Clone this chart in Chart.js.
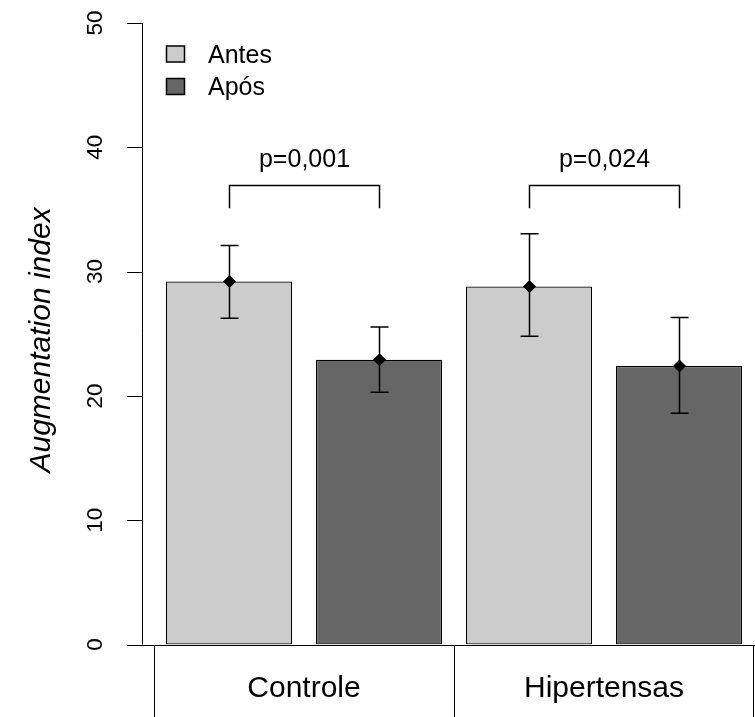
<!DOCTYPE html>
<html>
<head>
<meta charset="utf-8">
<script src="https://cdn.jsdelivr.net/npm/chart.js@4"></script>
<style>
  html, body { margin: 0; padding: 0; background: #fff; }
  #wrap { width: 755px; height: 717px; }
</style>
</head>
<body>
<div id="wrap"><canvas id="chart" width="755" height="717"></canvas></div>
<script>
// data
const categories = ['Controle', 'Hipertensas'];
const seriesNames = ['Antes', 'Após'];
const antesMean = [29.2, 28.8];
const aposMean = [22.9, 22.4];
const antesLow = [26.25, 24.8];
const antesHigh = [32.1, 33.05];
const aposLow = [20.3, 18.6];
const aposHigh = [25.55, 26.3];
const pLabels = ['p=0,001', 'p=0,024'];
const yTicks = [0, 10, 20, 30, 40, 50];
const yTitle = 'Augmentation index';

// bracket heights (axis units)
const bracketTop = 37;
const bracketFoot = 35.1;
const pLabelAt = 39;

const FONT = '"Liberation Sans", Arial, sans-serif';

const rPlot = {
  id: 'rPlot',
  afterDatasetsDraw(chart) {
    const ctx = chart.ctx;
    const y = chart.scales.y;
    const x = chart.scales.x;
    const y0 = y.getPixelForValue(0);
    ctx.save();
    ctx.strokeStyle = '#000';
    ctx.fillStyle = '#000';
    ctx.lineWidth = 1;

    // y axis line + ticks
    const axisX = 142.5;
    ctx.beginPath();
    ctx.moveTo(axisX, y.getPixelForValue(50));
    ctx.lineTo(axisX, y0);
    yTicks.forEach(t => {
      const py = Math.round(y.getPixelForValue(t)) + 0.5;
      ctx.moveTo(127, py);
      ctx.lineTo(axisX, py);
    });
    ctx.stroke();

    ctx.font = '22.5px ' + FONT;
    ctx.textAlign = 'center';
    ctx.textBaseline = 'middle';
    yTicks.forEach(t => {
      ctx.save();
      ctx.translate(96, y.getPixelForValue(t));
      ctx.rotate(-Math.PI / 2);
      ctx.fillText(String(t), 0, 0);
      ctx.restore();
    });

    // y title
    ctx.save();
    ctx.font = 'italic 30px ' + FONT;
    ctx.translate(42, y.getPixelForValue(24.5));
    ctx.rotate(-Math.PI / 2);
    ctx.fillText(yTitle, 0, 0);
    ctx.restore();

    // baseline + category table
    const yb = Math.round(y0) + 0.5;
    ctx.beginPath();
    ctx.moveTo(127, yb);
    ctx.lineTo(755, yb);
    const half = (x.getPixelForValue(1) - x.getPixelForValue(0)) / 2;
    const edges = [x.getPixelForValue(0) - half, x.getPixelForValue(0) + half, x.getPixelForValue(1) + half - 1];
    edges.forEach(ex => {
      const px = Math.round(ex) + 0.5;
      ctx.moveTo(px, yb);
      ctx.lineTo(px, 717);
    });
    ctx.stroke();

    ctx.font = '30px ' + FONT;
    categories.forEach((c, i) => {
      ctx.fillText(c, x.getPixelForValue(i), 689);
    });

    // error bars and mean markers
    const lows = [antesLow, aposLow];
    const highs = [antesHigh, aposHigh];
    const means = [antesMean, aposMean];
    chart.data.datasets.forEach((ds, d) => {
      const meta = chart.getDatasetMeta(d);
      meta.data.forEach((bar, i) => {
        const bx = Math.round(bar.x) + 0.5;
        const hi = y.getPixelForValue(highs[d][i]);
        const lo = y.getPixelForValue(lows[d][i]);
        ctx.lineWidth = 1.5;
        ctx.beginPath();
        ctx.moveTo(bx, hi);
        ctx.lineTo(bx, lo);
        ctx.moveTo(bx - 9, hi);
        ctx.lineTo(bx + 9, hi);
        ctx.moveTo(bx - 9, lo);
        ctx.lineTo(bx + 9, lo);
        ctx.stroke();
        const my = y.getPixelForValue(means[d][i]);
        const r = 6.5;
        ctx.beginPath();
        ctx.moveTo(bx, my - r);
        ctx.lineTo(bx + r, my);
        ctx.lineTo(bx, my + r);
        ctx.lineTo(bx - r, my);
        ctx.closePath();
        ctx.fill();
      });
    });

    // significance brackets
    const m0 = chart.getDatasetMeta(0);
    const m1 = chart.getDatasetMeta(1);
    ctx.lineWidth = 1.5;
    pLabels.forEach((p, i) => {
      const xa = Math.round(m0.data[i].x) + 0.5;
      const xb = Math.round(m1.data[i].x) + 0.5;
      const top = Math.round(y.getPixelForValue(bracketTop)) + 0.5;
      const foot = y.getPixelForValue(bracketFoot);
      ctx.beginPath();
      ctx.moveTo(xa, foot);
      ctx.lineTo(xa, top);
      ctx.lineTo(xb, top);
      ctx.lineTo(xb, foot);
      ctx.stroke();
      ctx.font = '25px ' + FONT;
      ctx.fillText(p, (xa + xb) / 2, y.getPixelForValue(pLabelAt));
    });

    // legend
    ctx.lineWidth = 1.5;
    ctx.textAlign = 'left';
    ctx.font = '25px ' + FONT;
    chart.data.datasets.forEach((ds, d) => {
      const ly = 46 + d * 32.5;
      ctx.fillStyle = ds.backgroundColor;
      ctx.fillRect(166.5, ly, 18, 16);
      ctx.strokeRect(166.5, ly, 18, 16);
      ctx.fillStyle = '#000';
      ctx.fillText(ds.label, 208, ly + 10);
    });

    ctx.restore();
  }
};

new Chart(document.getElementById('chart'), {
  type: 'bar',
  data: {
    labels: categories,
    datasets: [
      {
        label: seriesNames[0],
        data: antesMean,
        backgroundColor: '#cccccc',
        borderColor: '#000000',
        borderWidth: 1.2,
        borderSkipped: false,
        categoryPercentage: 1.0,
        barPercentage: 0.84,
      },
      {
        label: seriesNames[1],
        data: aposMean,
        backgroundColor: '#666666',
        borderColor: '#000000',
        borderWidth: 1.2,
        borderSkipped: false,
        categoryPercentage: 1.0,
        barPercentage: 0.84,
      },
    ],
  },
  options: {
    responsive: false,
    animation: false,
    layout: {
      padding: { left: 154, right: 1, top: 23, bottom: 72.5 },
    },
    scales: {
      x: { display: false },
      y: { display: false, min: 0, max: 50 },
    },
    plugins: {
      legend: { display: false },
      tooltip: { enabled: false },
    },
  },
  plugins: [rPlot],
});
</script>
</body>
</html>
